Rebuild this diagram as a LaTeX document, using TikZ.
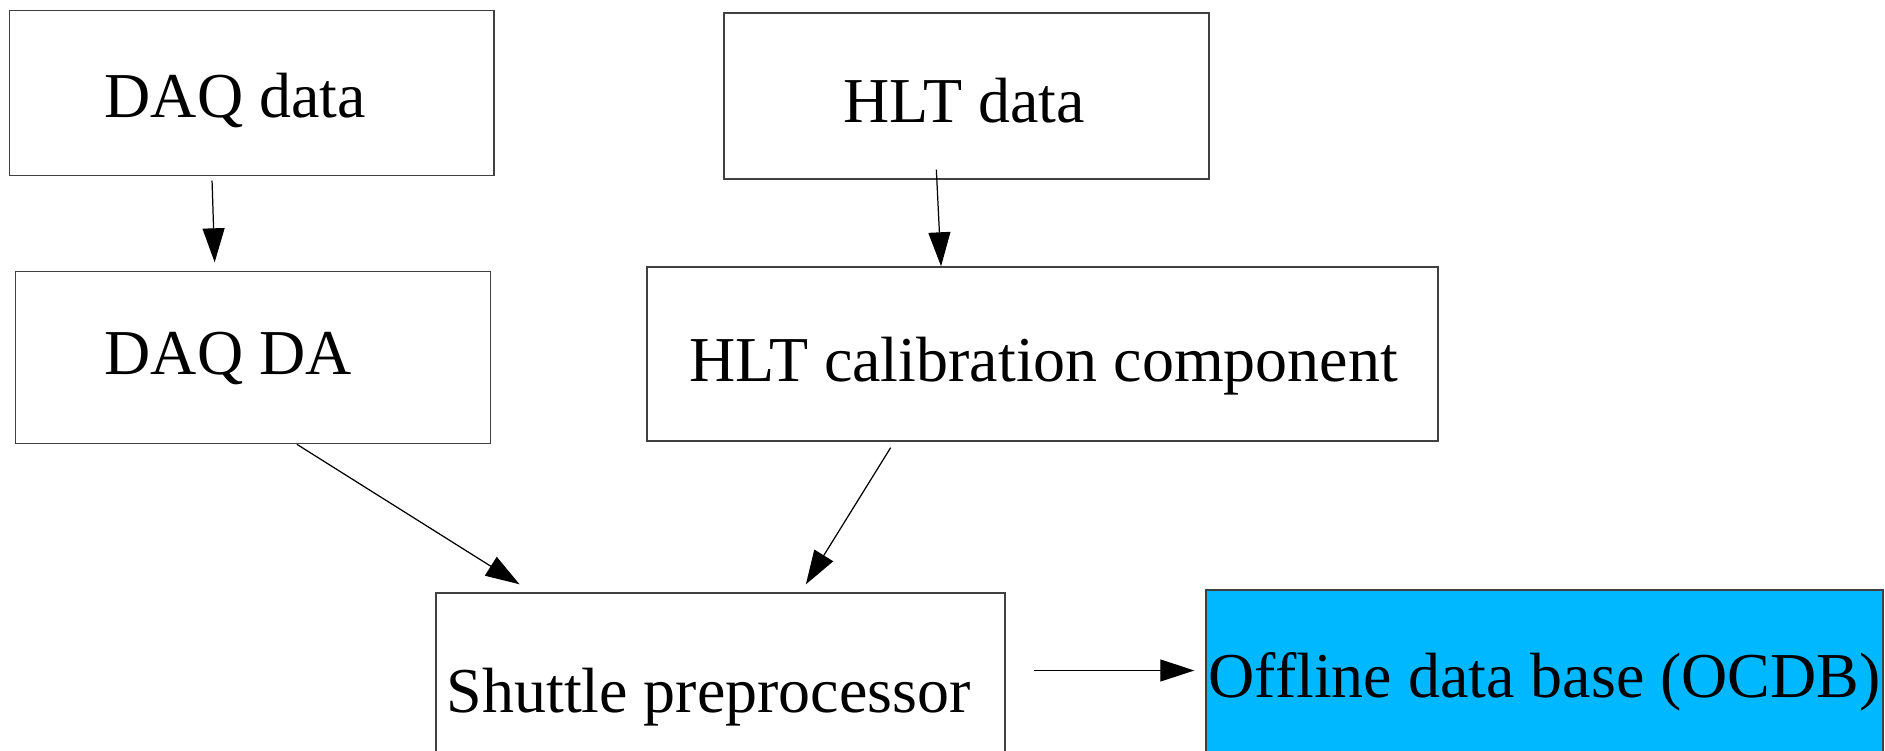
\documentclass[tikz,border=0pt]{standalone}
\usepackage{fontspec}
\setmainfont{Liberation Serif}
\usepackage{tikz}
\usetikzlibrary{arrows.meta, calc}
\definecolor{ocdbblue}{RGB}{0,184,255}

\tikzset{
	box/.style = {draw = black!75, line width = 0.4pt, rectangle, inner sep = 0pt},
	boxtext/.style = {anchor = base west, inner sep = 0pt, font = \fontsize{18.2}{22}\selectfont},
	flow/.style = {draw = black, line width = 0.35pt, ->}
}

\begin{document}
\begin{tikzpicture}[>={Triangle[length=0.34cm, width=0.22cm]}]
		\useasboundingbox (0,0) rectangle (18.85,7.5);
		\clip (0,0) rectangle (18.85,7.5);
		% boxes
		\node[box, minimum width = 4.845cm, minimum height = 1.65cm] at (2.5175,6.57) (daq) {};
		\node[box, minimum width = 4.749cm, minimum height = 1.721cm] at (2.5305,3.9245) (daqda) {};
		\node[box, minimum width = 4.85cm, minimum height = 1.66cm] at (9.665,6.54) (hlt) {};
		\node[box, minimum width = 7.91cm, minimum height = 1.74cm] at (10.425,3.96) (hltcal) {};
		\node[box, minimum width = 5.69cm, minimum height = 1.8cm] at (7.205,0.67) (shuttle) {};
		\node[box, fill = ocdbblue, minimum width = 6.77cm, minimum height = 1.8cm] at (15.445,0.70) (ocdb) {};
		% texts
		\node[boxtext] at (1.04,6.32) (daqt) {DAQ data};
		\node[boxtext] at (1.04,3.75) (daqdat) {DAQ DA};
		\node[boxtext] at (8.43,6.27) (hltt) {HLT data};
		\node[boxtext] at (6.89,3.69) (hltcalt) {HLT calibration component};
		\node[boxtext] at (4.46,0.38) (shuttlet) {Shuttle preprocessor};
		\node[boxtext] at (12.08,0.53) (ocdbt) {Offline data base (OCDB)};
		% arrows
		\draw[flow, shorten <= 0.045cm, shorten >= 0.085cm] ($(daq.south west)!0.418!(daq.south east)$) -- ($(daqda.north west)!0.42!(daqda.north east)$);
		\draw[flow, shorten <= -0.1cm] ($(hlt.south west)!0.439!(hlt.south east)$) -- ($(hltcal.north west)!0.372!(hltcal.north east)$);
		\draw[flow, shorten >= 0.15cm] ($(daqda.south west)!0.592!(daqda.south east)$) -- ($(shuttle.north west)!0.17!(shuttle.north east)$);
		\draw[flow, shorten <= 0.07cm, shorten >= 0.094cm] ($(hltcal.south west)!0.313!(hltcal.south east)$) -- ($(shuttle.north west)!0.641!(shuttle.north east)$);
		\draw[flow, shorten <= 0.28cm, shorten >= 0.11cm] ([yshift=0.125cm]shuttle.east) -- ([yshift=0.095cm]ocdb.west);
\end{tikzpicture}
\end{document}
